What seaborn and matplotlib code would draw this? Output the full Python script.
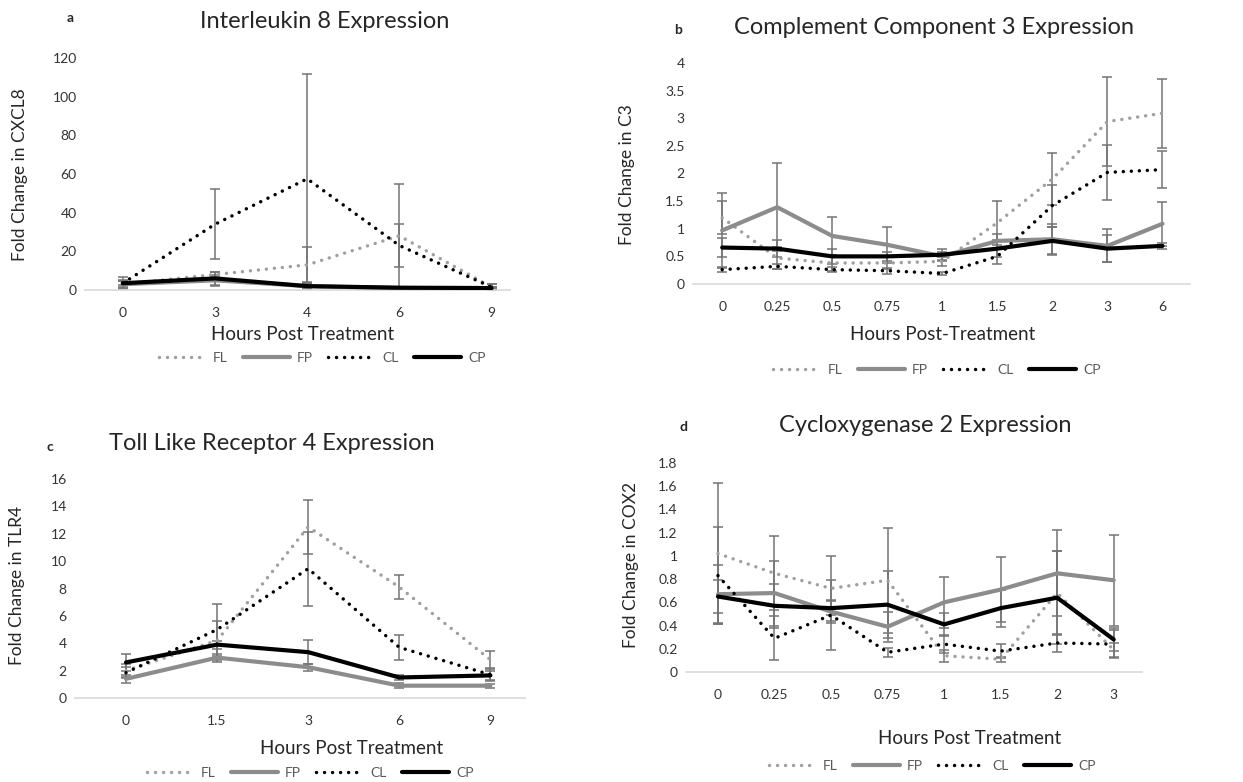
import numpy as np
import matplotlib
matplotlib.use("Agg")
import matplotlib.pyplot as plt
import seaborn as sns

# ---- data ----
series = ["FL", "FP", "CL", "CP"]

hours_a = ["0", "3", "4", "6", "9"]
fl_a = [3, 8, 13, 28, 1.5]
fl_a_err = [2, 1.5, 9, 27, 1.5]
fp_a = [3, 5, 2, 1, 1]
fp_a_err = [1.5, 3, 1.5, 0.5, 0.5]
cl_a = [3.5, 34, 57.5, 23, 1.5]
cl_a_err = [3, 18, 54, 11, 1.5]
cp_a = [3.5, 6, 2, 1.2, 1]
cp_a_err = [1, 3.5, 1, 0.5, 0.3]

hours_b = ["0", "0.25", "0.5", "0.75", "1", "1.5", "2", "3", "6"]
fl_b = [1.2, 0.47, 0.38, 0.38, 0.41, 1.11, 1.9, 2.94, 3.09]
fl_b_err = [0.3, 0.2, 0.15, 0.1, 0.08, 0.4, 0.47, 0.8, 0.62]
fp_b = [0.97, 1.39, 0.87, 0.71, 0.5, 0.78, 0.81, 0.69, 1.09]
fp_b_err = [0.68, 0.8, 0.35, 0.33, 0.08, 0.12, 0.27, 0.3, 0.4]
cl_b = [0.26, 0.32, 0.26, 0.24, 0.19, 0.5, 1.42, 2.02, 2.07]
cl_b_err = [0.05, 0.05, 0.05, 0.05, 0.03, 0.14, 0.38, 0.5, 0.33]
cp_b = [0.66, 0.64, 0.5, 0.5, 0.53, 0.64, 0.78, 0.64, 0.69]
cp_b_err = [0.18, 0.15, 0.13, 0.08, 0.1, 0.16, 0.25, 0.25, 0.05]

hours_c = ["0", "1.5", "3", "6", "9"]
fl_c = [2.0, 4.2, 12.5, 8.1, 2.8]
fl_c_err = [0.5, 1.4, 2.0, 0.9, 0.6]
fp_c = [1.4, 2.95, 2.25, 0.9, 0.9]
fp_c_err = [0.3, 0.3, 0.25, 0.2, 0.15]
cl_c = [1.85, 5.0, 9.45, 3.7, 1.7]
cl_c_err = [0.4, 1.9, 2.7, 0.9, 0.45]
cp_c = [2.6, 3.9, 3.35, 1.5, 1.65]
cp_c_err = [0.6, 0.3, 0.9, 0.2, 0.3]

hours_d = ["0", "0.25", "0.5", "0.75", "1", "1.5", "2", "3"]
fl_d = [1.02, 0.85, 0.72, 0.79, 0.14, 0.11, 0.68, 0.19]
fl_d_err = [0.61, 0.32, 0.28, 0.45, 0.05, 0.02, 0.36, 0.06]
fp_d = [0.67, 0.68, 0.52, 0.39, 0.60, 0.71, 0.85, 0.79]
fp_d_err = [0.25, 0.28, 0.1, 0.13, 0.22, 0.28, 0.37, 0.39]
cl_d = [0.83, 0.29, 0.49, 0.17, 0.24, 0.18, 0.25, 0.24]
cl_d_err = [0.42, 0.19, 0.3, 0.04, 0.08, 0.06, 0.08, 0.12]
cp_d = [0.65, 0.57, 0.55, 0.58, 0.41, 0.55, 0.64, 0.28]
cp_d_err = [0.14, 0.19, 0.06, 0.29, 0.1, 0.16, 0.4, 0.1]

# ---- styling ----
sns.set_theme(style="white")
plt.rcParams["font.family"] = ["Lato", "DejaVu Sans"]

W, H = 1243, 782
DOT = (0, (0.01, 2.3))
styles = {
    "FL": dict(color="#a0a0a0", lw=2.5, linestyle=DOT, dash_capstyle="round"),
    "FP": dict(color="#8c8c8c", lw=3.0, linestyle="-"),
    "CL": dict(color="#000000", lw=2.5, linestyle=DOT, dash_capstyle="round"),
    "CP": dict(color="#000000", lw=3.0, linestyle="-"),
}

fig = plt.figure(figsize=(W / 100, H / 100), dpi=100)


def px_axes(left, right, top, bottom):
    return fig.add_axes([left / W, 1 - bottom / H, (right - left) / W, (bottom - top) / H])


def ftext(x, y, s, **kw):
    fig.text(x / W, 1 - y / H, s, ha="center", va="center", **kw)


def panel(ax, hours, data, ymax, ystep, xlim):
    pos = np.arange(len(hours))
    for name, (vals, err) in zip(series, data):
        ax.errorbar(pos, vals, yerr=err, fmt="none", ecolor="#747474",
                    elinewidth=1.1, capsize=3.5, capthick=1.1, zorder=2)
    for name, (vals, err) in zip(series, data):
        sns.lineplot(x=pos, y=vals, ax=ax, label=name, zorder=3, **styles[name])
    ax.set_xlim(*xlim)
    ax.set_ylim(0, ymax)
    ax.set_xticks(pos)
    ax.set_xticklabels(hours)
    yt = np.round(np.arange(0, ymax + ystep / 2, ystep), 2)
    ax.set_yticks(yt)
    ax.set_yticklabels([f"{v:g}" for v in yt])
    ax.tick_params(axis="both", length=0, labelsize=10, colors="#333333")
    ax.tick_params(axis="x", pad=12)
    ax.tick_params(axis="y", pad=6)
    for s in ["top", "right", "left"]:
        ax.spines[s].set_visible(False)
    ax.spines["bottom"].set_color("#d9d9d9")
    ax.spines["bottom"].set_linewidth(1.2)
    ax.set_xlabel("")
    ax.set_ylabel("")
    ax.patch.set_alpha(0)
    handles, labels = ax.get_legend_handles_labels()
    if ax.get_legend() is not None:
        ax.get_legend().remove()
    return handles, labels


def legend(handles, labels, cx, cy):
    fig.legend(handles, labels, loc="center", bbox_to_anchor=(cx / W, 1 - cy / H),
               ncol=4, frameon=False, fontsize=10, handlelength=3.4,
               handletextpad=0.5, columnspacing=1.1, labelcolor="#595959")


# panel a
ax_a = px_axes(85, 510, 58, 290)
h, l = panel(ax_a, hours_a, [(fl_a, fl_a_err), (fp_a, fp_a_err), (cl_a, cl_a_err), (cp_a, cp_a_err)],
             120, 20, (-0.41, 4.2))
legend(h, l, 322, 358)
ftext(70, 18, "a", fontsize=10, fontweight="bold")
ftext(325, 22, "Interleukin 8 Expression", fontsize=17)
ftext(20, 175, "Fold Change in CXCL8", fontsize=12.5, rotation=90)
ftext(303, 335, "Hours Post Treatment", fontsize=13.5)

# panel b
ax_b = px_axes(693, 1190, 63, 284)
h, l = panel(ax_b, hours_b, [(fl_b, fl_b_err), (fp_b, fp_b_err), (cl_b, cl_b_err), (cp_b, cp_b_err)],
             4, 0.5, (-0.53, 8.5))
legend(h, l, 937, 370)
ftext(678, 30, "b", fontsize=10, fontweight="bold")
ftext(934, 28, "Complement Component 3 Expression", fontsize=17)
ftext(627, 175, "Fold Change in C3", fontsize=12.5, rotation=90)
ftext(943, 335, "Hours Post-Treatment", fontsize=13.5)

# panel c
ax_c = px_axes(75, 525, 479, 698)
h, l = panel(ax_c, hours_c, [(fl_c, fl_c_err), (fp_c, fp_c_err), (cl_c, cl_c_err), (cp_c, cp_c_err)],
             16, 2, (-0.56, 4.38))
legend(h, l, 310, 773)
ftext(50, 447, "c", fontsize=10, fontweight="bold")
ftext(272, 443, "Toll Like Receptor 4 Expression", fontsize=17)
ftext(17, 585, "Fold Change in TLR4", fontsize=12.5, rotation=90)
ftext(352, 748, "Hours Post Treatment", fontsize=13.5)

# panel d
ax_d = px_axes(686, 1142, 463, 672)
h, l = panel(ax_d, hours_d, [(fl_d, fl_d_err), (fp_d, fp_d_err), (cl_d, cl_d_err), (cp_d, cp_d_err)],
             1.8, 0.2, (-0.565, 7.5))
legend(h, l, 932, 766)
ftext(683, 427, "d", fontsize=10, fontweight="bold")
ftext(925, 425, "Cycloxygenase 2 Expression", fontsize=17)
ftext(631, 565, "Fold Change in COX2", fontsize=12.5, rotation=90)
ftext(970, 738, "Hours Post Treatment", fontsize=13.5)

fig.savefig("out.png", dpi=100)
